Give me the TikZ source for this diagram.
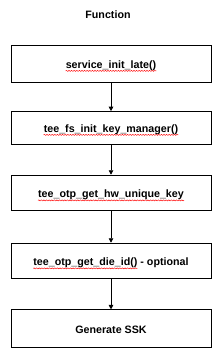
\documentclass[tikz,border=0pt]{standalone}
\usepackage{fontspec}
\setmainfont{Liberation Sans}
\usetikzlibrary{arrows.meta,decorations.pathmorphing}
\newcommand\nodefont{\bfseries\fontsize{10.7}{12}\selectfont}
\newlength\sqw
\begin{document}
\settowidth\sqw{\nodefont tee\_otp\_get\_die\_id()}%
\begin{tikzpicture}[x=1pt,y=-1pt,
  box/.style={draw=black, line width=1pt, minimum width=200pt, inner sep=0pt},
  txt/.style={font=\nodefont, inner sep=0pt, anchor=base},
  conn/.style={line width=0.9pt, -{Triangle[width=4.5pt,length=4.5pt]}},
  squig/.style={draw=red, line width=0.45pt, decorate, decoration={snake, segment length=2.6pt, amplitude=0.55pt}}]
\useasboundingbox (0,0) rectangle (222,358);
\node[txt] (title) at (108,18.5) {Function};
\node[box, minimum height=37pt] (b1) at (111,63.6) {};
\node[box, minimum height=32.5pt] (b2) at (111,127.9) {};
\node[box, minimum height=35.7pt] (b3) at (111,193.1) {};
\node[box, minimum height=35.7pt] (b4) at (111,261.1) {};
\node[box, minimum height=37.3pt] (b5) at (111,328.6) {};
\node[txt] (t1) at ([yshift=-4.5pt]b1.center) {service\_init\_late()};
\node[txt] (t2) at ([yshift=-4.2pt]b2.center) {tee\_fs\_init\_key\_manager()};
\node[txt] (t3) at ([yshift=-4.5pt]b3.center) {tee\_otp\_get\_hw\_unique\_key};
\node[txt] (t4) at ([yshift=-4.5pt]b4.center) {tee\_otp\_get\_die\_id() - optional};
\node[txt] (t5) at ([yshift=-4.5pt]b5.center) {Generate SSK};
\draw[squig] ([yshift=-2.8pt]t1.base west) -- ([yshift=-2.8pt]t1.base east);
\draw[squig] ([yshift=-2.8pt]t2.base west) -- ([yshift=-2.8pt]t2.base east);
\draw[squig] ([yshift=-2.8pt]t3.base west) -- ([yshift=-2.8pt]t3.base east);
\draw[squig] ([yshift=-2.8pt]t4.base west) -- ++(\sqw,0);
\draw[conn] (b1.south) -- (b2.north);
\draw[conn] (b2.south) -- (b3.north);
\draw[conn] (b3.south) -- (b4.north);
\draw[conn] (b4.south) -- (b5.north);
\end{tikzpicture}
\end{document}
